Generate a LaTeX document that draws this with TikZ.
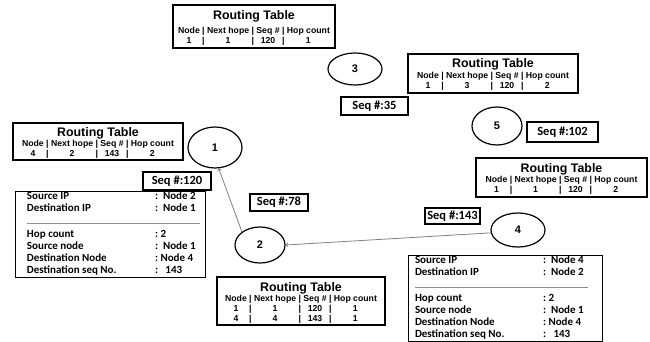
\documentclass[tikz,border=0pt]{standalone}
\usepackage{fontspec}
\setmainfont{Liberation Sans}
\newfontfamily\carlito{Carlito}
\usetikzlibrary{shapes.geometric}

\definecolor{sepgray}{gray}{0.55}

% routing table: #1 = extra gap under the title, #2 = entries
\newcommand{\rtable}[2]{%
  \begin{tabular}{@{}c@{\ |\ }c@{\ |\ }c@{\ |\ }c@{}}
    \multicolumn{4}{@{}c@{}}{\fontsize{12.4}{12}\selectfont\rule{0pt}{13pt}Routing Table}\\[#1]
    Node & Next hope & Seq \# & Hop count\\
    #2
  \end{tabular}}

% route packet: #1 = width of the value column, then src IP, dst IP,
% hops, src node, dst node, dst seq
\newcommand{\rpacket}[7]{%
  \begin{tabular}{@{}p{128pt}@{}p{#1}@{}}
    Source IP & \mbox{:\ \ #2}\\
    Destination IP & \mbox{:\ \ #3}\\
    \multicolumn{2}{@{}l@{}}{\rlap{\color{sepgray}\rule[0.6pt]{173pt}{0.8pt}}}\\[2pt]
    Hop count & \mbox{:\ #4}\\
    Source node & \mbox{:\ \ #5}\\
    Destination Node & \mbox{:\ #6}\\
    Destination seq No. & \mbox{:\ \ \ #7}
  \end{tabular}}

\begin{document}
\begin{tikzpicture}[x=1pt,y=-1pt,
    host/.style={draw,ellipse,line width=1.2pt,inner sep=0pt,
      font=\bfseries\fontsize{11}{12}\selectfont},
    rtbox/.style={draw,line width=1.5pt,inner xsep=2pt,inner ysep=0pt,
      font=\bfseries\fontsize{8.7}{10}\selectfont},
    seqbox/.style={draw,line width=1.2pt,inner sep=0pt,
      font=\carlito\bfseries\fontsize{12.5}{13}\selectfont},
    msgbox/.style={draw,line width=1pt,inner ysep=0pt,
      minimum height=85pt,font=\carlito\bfseries\fontsize{11}{12}\selectfont},
    link/.style={draw=gray,line width=0.8pt}]
  \useasboundingbox (0,0) rectangle (650,342);

  % hosts
  \node[host,minimum width=54pt,minimum height=41pt] (n1) at (215,147.5) {1};
  \node[host,minimum width=50pt,minimum height=36pt] (n2) at (260,245) {2};
  \node[host,minimum width=54pt,minimum height=32pt] (n3) at (355,69) {3};
  \node[host,minimum width=54pt,minimum height=34pt] (n4) at (518,230) {4};
  \node[host,minimum width=50pt,minimum height=38pt] (n5) at (497,126) {5};

  % routing tables
  \node[rtbox,minimum width=162pt,minimum height=43pt] (rtTop) at (254,26.5)
    {\rtable{4pt}{1 & 1 & 120 & 1}};
  \node[rtbox,minimum width=170pt,minimum height=39pt] (rtThree) at (493,73.5)
    {\rtable{1pt}{1 & 3 & 120 & 2}};
  \node[rtbox,minimum width=170pt,minimum height=37pt] (rtOne) at (98,141.5)
    {\rtable{0.7pt}{4 & 2 & 143 & 2}};
  \node[rtbox,minimum width=171pt,minimum height=39pt] (rtFive) at (561.5,177.5)
    {\rtable{0.6pt}{1 & 1 & 120 & 2}};
  \node[rtbox,minimum width=168pt,minimum height=48pt] (rtTwo) at (301,301)
    {\rtable{0pt}{1 & 1 & 120 & 1\\ 4 & 4 & 143 & 1}};

  % sequence numbers
  \node[seqbox,minimum width=68pt,minimum height=18pt] (s120) at (177,181) {Seq \#:120};
  \node[seqbox,minimum width=67pt,minimum height=18pt] (s35) at (374.5,106) {Seq \#:35};
  \node[seqbox,minimum width=71pt,minimum height=20pt] (s102) at (562.5,132) {Seq \#:102};
  \node[seqbox,minimum width=58pt,minimum height=17pt] (s78) at (279,202.5) {Seq \#:78};
  \node[seqbox,minimum width=55pt,minimum height=16pt] (s143) at (452.5,216) {Seq \#:143};

  % packets
  \node[msgbox,inner xsep=12pt] (m1) at (110,234.5)
    {\rpacket{38pt}{Node 2}{Node 1}{2}{Node 1}{Node 4}{143}};
  \node[msgbox,inner xsep=7pt] (m2) at (505,298.5)
    {\rpacket{52pt}{Node 4}{Node 2}{2}{Node 1}{Node 4}{143}};

  \draw [link,->] (n2.north west) -- (n1.-80);
  \draw [link,->] (n4.186) -- (n2.east);
\end{tikzpicture}
\end{document}
